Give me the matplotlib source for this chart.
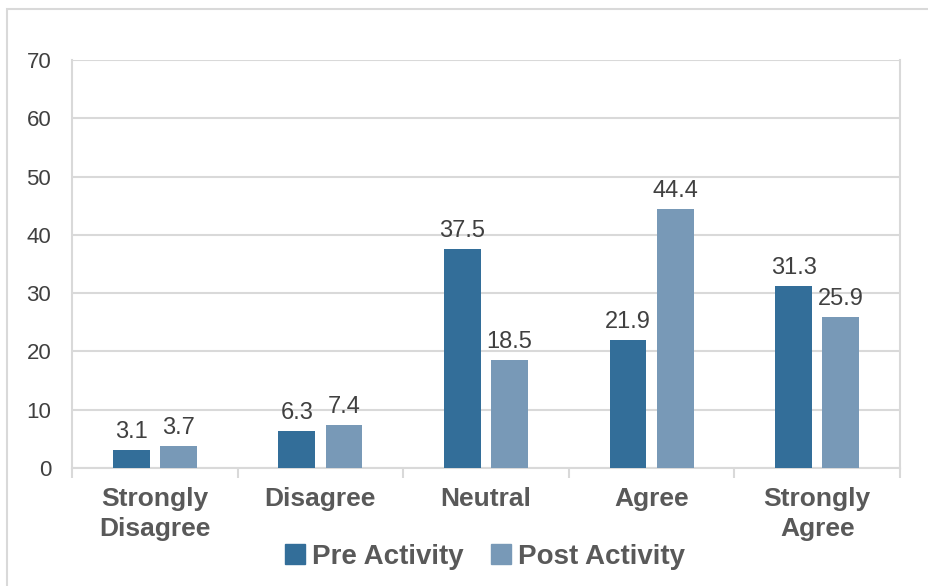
import matplotlib
matplotlib.use("Agg")
import matplotlib.pyplot as plt
import numpy as np
from matplotlib.patches import Rectangle, Patch

categories = ["Strongly\nDisagree", "Disagree", "Neutral", "Agree", "Strongly\nAgree"]
pre_activity = [3.1, 6.3, 37.5, 21.9, 31.3]
post_activity = [3.7, 7.4, 18.5, 44.4, 25.9]
series_names = ["Pre Activity", "Post Activity"]
y_ticks = [0, 10, 20, 30, 40, 50, 60, 70]

plt.rcParams["font.family"] = ["Liberation Sans", "DejaVu Sans"]

PRE_COLOR = "#336E99"
POST_COLOR = "#7899B7"
GRID = "#D9D9D9"
TEXT = "#595959"

fig = plt.figure(figsize=(9.29, 5.86), dpi=100)
ax = fig.add_axes([72 / 929, 1 - 468 / 586, 828 / 929, 408 / 586])

x = np.arange(len(categories))
width = 0.223
offset = 0.1425
b1 = ax.bar(x - offset, pre_activity, width, color=PRE_COLOR, zorder=3)
b2 = ax.bar(x + offset, post_activity, width, color=POST_COLOR, zorder=3)

for bars, vals in ((b1, pre_activity), (b2, post_activity)):
    for rect, v in zip(bars, vals):
        ax.annotate(f"{v}", (rect.get_x() + rect.get_width() / 2, v),
                    xytext=(0, 5), textcoords="offset points",
                    ha="center", va="bottom", fontsize=17, color="#404040")

ax.set_xlim(-0.5, len(categories) - 0.5)
ax.set_ylim(0, 70)
ax.set_yticks(y_ticks)
ax.set_yticklabels([str(t) for t in y_ticks], fontsize=16, color="#404040")
ax.tick_params(axis="y", length=0, pad=15)
ax.yaxis.grid(True, color=GRID, linewidth=1.5, zorder=0)
ax.set_axisbelow(True)

# category labels centered, boundary tick marks
ax.set_xticks(x)
ax.set_xticklabels(categories, fontsize=19, fontweight="bold", color=TEXT,
                   linespacing=1.3)
ax.tick_params(axis="x", length=0, pad=14)
ax.set_xticks(np.arange(-0.5, len(categories), 1), minor=True)
ax.tick_params(axis="x", which="minor", length=7, width=1.5, color=GRID)

ax.spines["top"].set_visible(False)
for side in ("bottom", "left", "right"):
    ax.spines[side].set_color(GRID)
    ax.spines[side].set_linewidth(1.5)

handles = [Patch(color=PRE_COLOR), Patch(color=POST_COLOR)]
leg = fig.legend(handles, series_names, loc="center", bbox_to_anchor=(0.522, 0.05),
                 ncol=2, frameon=False, handlelength=0.7, handleheight=0.7,
                 handletextpad=0.25, columnspacing=1.0,
                 prop={"size": 20, "weight": "bold"})
for t in leg.get_texts():
    t.set_color(TEXT)

fig.patches.append(Rectangle((7 / 929, -0.05), 1.0, 1 - 9 / 586 + 0.05,
                             transform=fig.transFigure, fill=False,
                             edgecolor=GRID, linewidth=1.5))

fig.savefig("out.png", dpi=100)
